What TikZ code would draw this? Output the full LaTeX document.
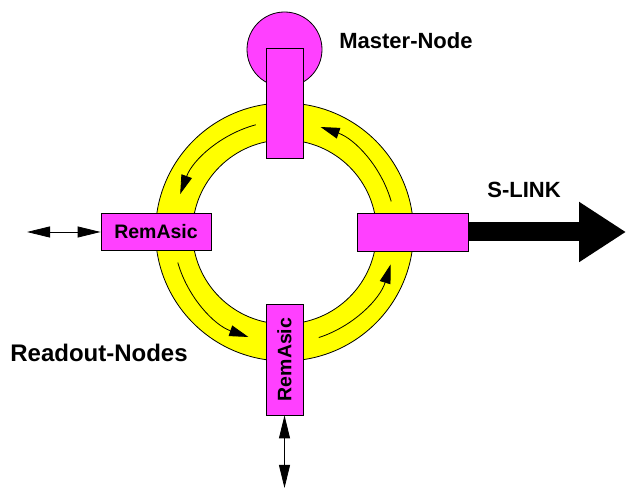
\documentclass[tikz,border=0pt]{standalone}
\usepackage{fontspec}
\setmainfont{Liberation Sans}
\usepackage{graphicx}
\usepackage{tikz}
\usetikzlibrary{positioning, arrows.meta, calc}
\definecolor{ringYellow}{RGB}{255,255,0}
\definecolor{nodeMagenta}{RGB}{255,64,255}

\begin{document}
\begin{tikzpicture}[x=1pt, y=1pt,
	asic/.style={draw, fill=nodeMagenta, line width=0.8pt, inner sep=0pt, font=\bfseries\fontsize{19.5}{19.5}\selectfont},
	lbl/.style={font=\bfseries\fontsize{22}{22}\selectfont},
	flow/.style={line width=0.8pt, -{Triangle[length=19pt, width=11pt]}},
	link/.style={line width=0.8pt, {Triangle[length=23pt, width=11pt]}-{Triangle[length=23pt, width=11pt]}}]
	\useasboundingbox (0,0) rectangle (626,489);
	
	% Ring
	\coordinate (ring) at (284.5,257);
	\fill[ringYellow, even odd rule] (ring) circle (129pt) (ring) circle (92pt);
	\draw[line width=0.8pt] (ring) circle (129pt);
	\draw[line width=0.8pt] (ring) circle (92pt);
	\foreach \a in {16,105,196,288}
		\draw[flow] ([shift={(\a:111pt)}]ring) arc[start angle=\a, end angle=\a+55, radius=111pt];
	
	% Master node
	\node[circle, draw, fill=nodeMagenta, line width=0.8pt, minimum size=75pt, inner sep=0pt] (master) at (284.5,439.5) {};
	\node[asic, minimum width=37pt, minimum height=110pt] (mrem) at (284.5,386) {};
	\node[lbl] (mastertxt) at (406,448) {Master-Node};
	
	% S-LINK
	\coordinate (slinkend) at (626,257);
	\draw[line width=19pt, -{Triangle[length=47pt, width=57pt]}] (412.5,257) -- (slinkend);
	\node[asic, minimum width=111pt, minimum height=38pt] (srem) at (412.5,257) {};
	\node[lbl] (slinktxt) at (524,299) {S-LINK};
	
	% Readout nodes
	\node[asic, minimum width=110pt, minimum height=37pt] (lrem) at (156,257) {RemAsic};
	\node[asic, minimum width=37pt, minimum height=111pt] (brem) at (284.5,129.5) {\rotatebox{90}{RemAsic}};
	\node[lbl, font=\bfseries\fontsize{24}{24}\selectfont] (readouttxt) at (99,136) {Readout-Nodes};
	
	\coordinate (lend) at (27,257);
	\draw[link] (lend) -- (lrem.west);
	\coordinate (bend) at (284.5,1);
	\draw[link] (brem.south) -- (bend);
\end{tikzpicture}
\end{document}
